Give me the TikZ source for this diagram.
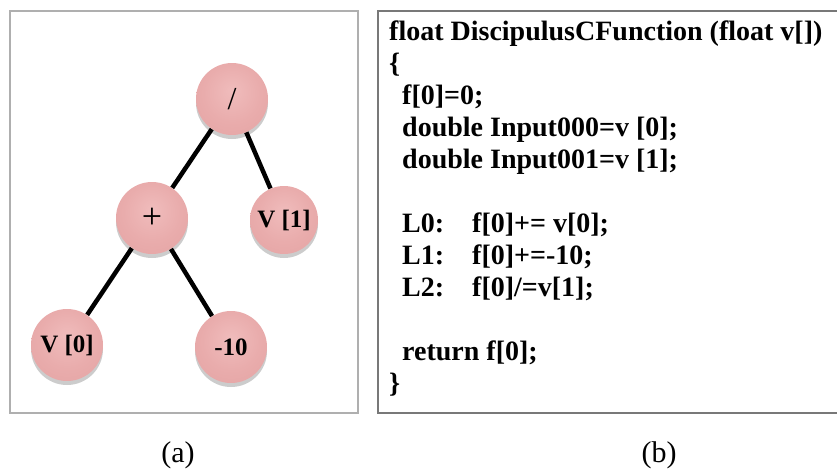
\documentclass[tikz,border=0pt]{standalone}
\usepackage{fontspec}
\setmainfont{Liberation Serif}
\usetikzlibrary{shadows,backgrounds}
\definecolor{boxa}{RGB}{175,175,175}
\definecolor{boxb}{RGB}{120,120,120}
\definecolor{pinka}{RGB}{240,188,188}
\definecolor{pinkb}{RGB}{233,172,172}
\definecolor{pinkc}{RGB}{227,162,162}
\definecolor{pinkd}{RGB}{208,136,136}
\definecolor{pinke}{RGB}{205,132,132}
\pgfdeclareradialshading{pinkball}{\pgfpoint{0bp}{6bp}}{%
  color(0bp)=(pinka);
  color(20bp)=(pinkb);
  color(40bp)=(pinkc);
  color(49bp)=(pinkd);
  color(56bp)=(pinke)}
\begin{document}
\begin{tikzpicture}[x=1pt,y=-1pt,
  tn/.style={circle, minimum size=72pt, inner sep=0pt, shading=pinkball,
    font=\fontsize{25}{25}\selectfont\bfseries,
    drop shadow={shadow xshift=0pt, shadow yshift=-4pt, opacity=0.2, fill=black}},
  edgeline/.style={line width=4.5pt, black},
  codeline/.style={anchor=base west, inner sep=0pt, font=\fontsize{28}{32}\selectfont\bfseries},
  caption/.style={font=\fontsize{30}{30}\selectfont, inner sep=0pt}]
\useasboundingbox (0,0) rectangle (837,471);
% frames
\draw[boxa, line width=1.6pt] (10,11) rectangle (358,413);
\draw[boxb, line width=1.6pt] (378,11) rectangle (850,413);
% tree
\node[tn, font=\fontsize{32}{32}\selectfont] (div) at (232,99) {/};
\node[tn, font=\fontsize{36}{36}\selectfont] (plus) at (152,218) {+};
\node[tn, minimum size=68pt] (v1) at (284,220) {V [1]};
\node[tn] (v0) at (67,345) {V [0]};
\node[tn] (m10) at (231,347) {-10};
\begin{scope}[on background layer]
\draw[edgeline] (div) -- (plus);
\draw[edgeline] (div) -- (v1);
\draw[edgeline] (plus) -- (v0);
\draw[edgeline] (plus) -- (m10);
\end{scope}
% code
\node[codeline] (c0) at (389,40) {float DiscipulusCFunction (float v[])};
\node[codeline] (c1) at (389,72) {\{};
\node[codeline] (c2) at (402,104) {f[0]=0;};
\node[codeline] (c3) at (402,136) {double Input000=v [0];};
\node[codeline] (c4) at (402,168) {double Input001=v [1];};
\node[codeline] (l0) at (402,232) {L0:};
\node[codeline] (s0) at (472,232) {f[0]+= v[0];};
\node[codeline] (l1) at (402,264) {L1:};
\node[codeline] (s1) at (472,264) {f[0]+=-10;};
\node[codeline] (l2) at (402,296) {L2:};
\node[codeline] (s2) at (472,296) {f[0]/=v[1];};
\node[codeline] (c5) at (402,360) {return f[0];};
\node[codeline] (c6) at (389,392) {\}};
% captions
\node[caption] (capa) at (178,455) {(a)};
\node[caption] (capb) at (659,455) {(b)};
\end{tikzpicture}
\end{document}
